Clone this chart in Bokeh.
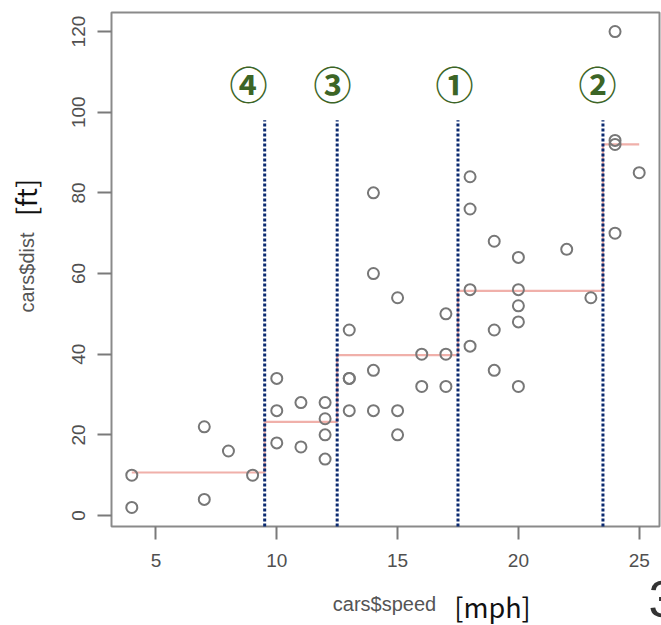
from bokeh.plotting import figure
from bokeh.models import Range1d, FixedTicker, Label, LinearAxis
from bokeh.core.properties import value
from bokeh.embed import file_html
from bokeh.resources import INLINE
import math

# --- data (R cars dataset) ---
speed = [4, 4, 7, 7, 8, 9, 10, 10, 10, 11, 11, 12, 12, 12, 12, 13, 13, 13, 13,
         14, 14, 14, 14, 15, 15, 15, 16, 16, 17, 17, 17, 18, 18, 18, 18, 19, 19,
         19, 20, 20, 20, 20, 20, 22, 23, 24, 24, 24, 24, 25]
dist = [2, 10, 4, 22, 16, 10, 18, 26, 34, 17, 28, 14, 20, 24, 28, 26, 34, 34, 46,
        26, 36, 60, 80, 20, 26, 54, 32, 40, 32, 40, 50, 42, 56, 76, 84, 36, 46,
        68, 32, 48, 52, 56, 64, 66, 54, 70, 92, 93, 120, 85]

splits = [9.5, 12.5, 17.5, 23.5]
split_labels = ["④", "③", "①", "②"]
split_label_x = [8.83, 12.31, 17.36, 23.27]
segment_means = [10.67, 23.22, 39.75, 55.71, 92.0]
x_ticks = [5, 10, 15, 20, 25]
y_ticks = [0, 20, 40, 60, 80, 100, 120]

# --- layout ---
W, H = 661, 625
L, R, T, B = 111, 659, 12, 526          # plot box in pixels
X0, X1 = 3.16, 25.84                     # data limits of the box
Y0, Y1 = -2.72, 124.72
SX = (X1 - X0) / (R - L)
SY = (Y1 - Y0) / (B - T)


def dx(px):
    return X0 + (px - L) * SX


def dy(py):
    return Y0 + (B - py) * SY


p = figure(width=W, height=H, output_backend="svg", toolbar_location=None,
           x_range=Range1d(dx(0), dx(W)), y_range=Range1d(dy(H), dy(0)),
           x_axis_location=None, y_axis_location=None,
           min_border=0)
p.grid.visible = False
p.background_fill_color = "white"
p.border_fill_color = "white"
p.outline_line_color = None

# plot box
p.quad(left=[X0], right=[X1], bottom=[Y0], top=[Y1], fill_color=None,
       line_color="#8a8a8a", line_width=2)

xa = LinearAxis(fixed_location=Y0, ticker=FixedTicker(ticks=x_ticks))
ya = LinearAxis(fixed_location=X0, ticker=FixedTicker(ticks=y_ticks))
for ax in (xa, ya):
    ax.axis_line_color = None
    ax.major_tick_line_color = "#7a7a7a"
    ax.major_tick_line_width = 2
    ax.major_tick_in = 0
    ax.minor_tick_line_color = None
    ax.major_label_text_font = "Liberation Sans"
    ax.major_label_text_font_size = "19px"
    ax.major_label_text_color = "#505050"
xa.major_tick_out = 13
ya.major_tick_out = 14
xa.major_label_standoff = 14
ya.major_label_standoff = 12
ya.major_label_orientation = "vertical"
p.add_layout(xa, "below")
p.add_layout(ya, "left")

# step line from regression tree
edges = [min(speed)] + splits + [max(speed)]
sx, sy = [], []
for i, m in enumerate(segment_means):
    sx += [edges[i], edges[i + 1]]
    sy += [m, m]
p.line(sx, sy, line_color="#f0b0aa", line_width=2.2)

# split lines
p.segment(x0=splits, y0=[Y0] * len(splits), x1=splits, y1=[98] * len(splits),
          line_color="#0b2a70", line_width=3, line_dash="3 2")

# points
p.scatter(speed, dist, size=11, fill_color=None, line_color="#777777",
          line_width=2)

# circled numbers
p.text(x=split_label_x, y=[dy(82)] * 4, text=split_labels,
       text_font=value("Noto Sans CJK JP"), text_font_style="bold",
       text_font_size="38px", text_color="#3c6526",
       text_align="center", text_baseline="middle")


def px_label(x, y, text, **kw):
    p.add_layout(Label(x=dx(x), y=dy(y), text=text, **kw))


# axis titles
px_label(384, 603, "cars$speed", text_font="Liberation Sans",
         text_font_size="20px", text_color="#555555",
         text_align="center", text_baseline="middle")
px_label(492, 606, "[mph]", text_font="Noto Sans CJK JP",
         text_font_size="27px", text_color="#111111",
         text_align="center", text_baseline="middle")
px_label(26, 272, "cars$dist", angle=math.pi / 2,
         text_font="Liberation Sans", text_font_size="20px",
         text_color="#555555", text_align="center",
         text_baseline="middle")
px_label(25, 197, "[ft]", angle=math.pi / 2,
         text_font="Noto Sans CJK JP", text_font_size="27px",
         text_color="#111111", text_align="center",
         text_baseline="middle")
# partial page number at bottom-right edge
px_label(648, 580, "3", text_font="Liberation Sans",
         text_font_size="52px", text_color="#333333",
         text_align="left", text_baseline="top")

open("out.html", "w").write(file_html(p, INLINE))
